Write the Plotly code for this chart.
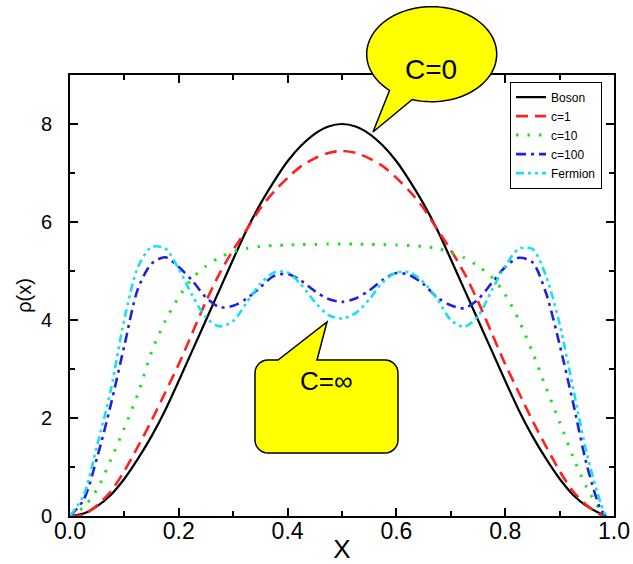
import numpy as np
import plotly.graph_objects as go

# ---- data: density profiles rho(x) for several interaction strengths ----
X = [0.0, 0.025, 0.05, 0.075, 0.1, 0.125, 0.15, 0.175, 0.2, 0.225,
     0.25, 0.275, 0.3, 0.325, 0.35, 0.375, 0.4, 0.425, 0.45, 0.475,
     0.5, 0.525, 0.55, 0.575, 0.6, 0.625, 0.65, 0.675, 0.7, 0.725,
     0.75, 0.775, 0.8, 0.825, 0.85, 0.875, 0.9, 0.925, 0.95, 0.975, 0.985]

BOSON = [0.0, 0.05, 0.2, 0.43, 0.76, 1.17, 1.63, 2.16, 2.76, 3.38,
         4.0, 4.62, 5.24, 5.84, 6.37, 6.83, 7.24, 7.56, 7.8, 7.95,
         8.0, 7.95, 7.8, 7.56, 7.24, 6.83, 6.37, 5.84, 5.24, 4.62,
         4.0, 3.38, 2.76, 2.16, 1.63, 1.17, 0.76, 0.43, 0.2, 0.05, 0.0]

C1 = [0.0, 0.03, 0.22, 0.5, 0.92, 1.42, 1.95, 2.52, 3.1, 3.74,
      4.38, 4.95, 5.43, 5.85, 6.28, 6.62, 6.9, 7.14, 7.3, 7.41,
      7.45, 7.41, 7.3, 7.14, 6.9, 6.62, 6.28, 5.85, 5.43, 4.95,
      4.38, 3.74, 3.1, 2.52, 1.95, 1.42, 0.92, 0.5, 0.22, 0.03, 0.0]

C10 = [0.0, 0.18, 0.55, 1.15, 1.8, 2.5, 3.35, 3.98, 4.47, 4.85,
       5.1, 5.28, 5.39, 5.46, 5.5, 5.52, 5.53, 5.54, 5.54, 5.55,
       5.55, 5.55, 5.54, 5.54, 5.53, 5.52, 5.5, 5.46, 5.38, 5.27,
       5.1, 4.88, 4.52, 4.0, 3.35, 2.62, 1.92, 1.2, 0.58, 0.12, 0.0]

C100 = [0.0, 0.33, 1.2, 2.27, 3.48, 4.64, 5.15, 5.28, 5.08, 4.8,
        4.46, 4.26, 4.29, 4.44, 4.67, 4.9, 4.94, 4.8, 4.59, 4.43,
        4.37, 4.44, 4.6, 4.82, 4.96, 4.91, 4.73, 4.46, 4.3, 4.24,
        4.42, 4.75, 5.08, 5.27, 5.18, 4.55, 3.5, 2.3, 1.04, 0.15, 0.0]

FERMION = [0.0, 0.42, 1.45, 2.57, 4.02, 5.08, 5.49, 5.46, 5.04, 4.5,
           4.05, 3.87, 3.98, 4.36, 4.74, 4.97, 4.97, 4.72, 4.37, 4.1,
           4.03, 4.14, 4.42, 4.77, 4.97, 4.97, 4.77, 4.43, 4.0, 3.86,
           4.08, 4.6, 5.1, 5.45, 5.45, 4.9, 3.92, 2.6, 1.27, 0.28, 0.0]

NAMES = ["Boson", "c=1", "c=10", "c=100", "Fermion"]
X_TICKS = [0.0, 0.2, 0.4, 0.6, 0.8, 1.0]
Y_TICKS = [0, 2, 4, 6, 8]

FONT = "Liberation Sans, Arial, sans-serif"

styles = [
    dict(color="#000000", width=2.2, dash="solid"),
    dict(color="#ff2020", width=2.6, dash="12px,7px"),
    dict(color="#20e020", width=3.0, dash="2.5px,9px"),
    dict(color="#2020e0", width=2.6, dash="10px,5px,3px,5px"),
    dict(color="#18e0f0", width=2.6, dash="8px,4px,3px,4px,3px,4px"),
]

fig = go.Figure()
for name, ys, st in zip(NAMES, [BOSON, C1, C10, C100, FERMION], styles):
    fig.add_trace(go.Scatter(
        x=X, y=ys, name=name, mode="lines",
        line=dict(shape="spline", smoothing=0.8, **st),
    ))

# plot-area geometry in pixels (used for the callout bubbles)
W, H = 633, 564
ML, MR, MT, MB = 70, 19, 75, 48
PW, PH = W - ML - MR, H - MT - MB


def px(xp, yp):
    """pixel position -> paper coordinates"""
    return (xp - ML) / PW, (H - MB - yp) / PH


def path_from(points):
    parts = []
    for i, (a, b) in enumerate(points):
        u, v = px(a, b)
        parts.append(("M" if i == 0 else "L") + f"{u:.5f},{v:.5f}")
    return " ".join(parts) + " Z"


# speech bubble (ellipse with a tail) for C=0
cx, cy, rx, ry = 431.7, 54.2, 65.0, 47.5
a0, a1 = np.deg2rad(130.4), np.deg2rad(107.4 + 360.0)
ang = np.linspace(a0, a1, 120)
ell = [(cx + rx * np.cos(t), cy + ry * np.sin(t)) for t in ang]
ell.append((373.0, 132.0))
bubble0 = path_from(ell)

# rounded-rectangle bubble with a tail for C=inf
x0, x1, y0, y1, r = 255.0, 398.0, 360.0, 453.0, 13.0


def corner(xc, yc, start, n=8):
    ts = np.linspace(start, start + np.pi / 2, n)
    return [(xc + r * np.cos(t), yc + r * np.sin(t)) for t in ts]


rect = [(x0 + r, y0), (278.0, y0), (327.0, 322.0), (317.0, y0)]
rect += corner(x1 - r, y0 + r, -np.pi / 2)
rect += corner(x1 - r, y1 - r, 0.0)
rect += corner(x0 + r, y1 - r, np.pi / 2)
rect += corner(x0 + r, y0 + r, np.pi)
bubble1 = path_from(rect)

for p in (bubble0, bubble1):
    fig.add_shape(type="path", path=p, xref="paper", yref="paper",
                  fillcolor="#ffff00", line=dict(color="#000000", width=1.5),
                  layer="above")

u, v = px(431.0, 52.0)
fig.add_annotation(x=u, y=v, xref="paper", yref="paper", text="C=0",
                   showarrow=False, font=dict(family=FONT, size=28, color="#000"))
u, v = px(326.0, 398.0)
fig.add_annotation(x=u, y=v, xref="paper", yref="paper", text="C=\u221e",
                   showarrow=False, font=dict(family=FONT, size=26, color="#000"))

axis_common = dict(
    showline=True, linecolor="#000", linewidth=2, mirror="allticks",
    ticks="inside", ticklen=8, tickwidth=1.5, tickcolor="#000",
    showgrid=False, zeroline=False, automargin=False,
)

fig.update_xaxes(
    range=[0, 1], tickvals=X_TICKS, ticktext=[f"{t:.1f}" for t in X_TICKS],
    tickfont=dict(family=FONT, size=23, color="#000"),
    ticklabelstandoff=-7,
    minor=dict(dtick=0.1, ticks="inside", ticklen=5, tickwidth=1.5, tickcolor="#000"),
    title=dict(text="X", font=dict(family=FONT, size=26, color="#000"), standoff=6),
    **axis_common,
)
fig.update_yaxes(
    range=[0, 9], tickvals=Y_TICKS,
    tickfont=dict(family=FONT, size=20, color="#000"),
    minor=dict(dtick=1, ticks="inside", ticklen=5, tickwidth=1.5, tickcolor="#000"),
    title=dict(text="\u03c1(x)", font=dict(family=FONT, size=20, color="#000"), standoff=4),
    ticklabelstandoff=12,
    **axis_common,
)

fig.update_layout(
    width=W, height=H,
    margin=dict(l=ML, r=MR, t=MT, b=MB, pad=0),
    paper_bgcolor="#ffffff", plot_bgcolor="#ffffff",
    font=dict(family=FONT, color="#000"),
    legend=dict(
        x=0.978, y=0.985, xanchor="right", yanchor="top",
        bgcolor="#ffffff", bordercolor="#000", borderwidth=1,
        font=dict(family=FONT, size=12, color="#000"),
        tracegroupgap=0, itemwidth=30,
    ),
)

fig.write_html("out.html")
